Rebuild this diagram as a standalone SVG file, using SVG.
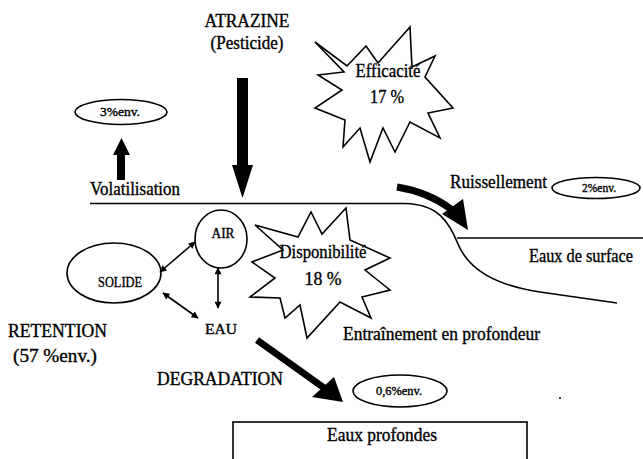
<svg xmlns="http://www.w3.org/2000/svg" width="643" height="459" viewBox="0 0 643 459">
<style>
text{font-family:"Liberation Serif","Times New Roman",serif;fill:#000;stroke:#000;stroke-width:0.35}
.t{font-size:18px}
.m{font-size:14px}
.s{font-size:12px}
.ln{fill:none;stroke:#000;stroke-width:1.6}
.sh{fill:#fff;stroke:#000;stroke-width:1.6}
.fill{fill:#000;stroke:none}
</style>
<defs>
<marker id="ah" viewBox="0 0 10 10" refX="9" refY="5" markerWidth="8" markerHeight="7" orient="auto-start-reverse" markerUnits="userSpaceOnUse">
<path d="M0,0 L10,5 L0,10 z" fill="#000"/>
</marker>
</defs>
<rect width="643" height="459" fill="#fff"/>

<g id="ground">
<path class="ln" d="M90,203.5 L405,203.5 C438,204 449,222 458,244 C469,270 495,285 540,292 L617,303"/>
<line class="ln" x1="457" y1="238" x2="643" y2="238"/>
</g>

<g id="atrazine">
<text class="t" x="247" y="27" text-anchor="middle" textLength="85" lengthAdjust="spacingAndGlyphs">ATRAZINE</text>
<text class="t" x="247" y="49" text-anchor="middle" textLength="73" lengthAdjust="spacingAndGlyphs">(Pesticide)</text>
</g>

<g id="efficacite">
<polygon class="sh" points="315,42 347,66 366,46 378,63 410,27 412,67 435,56 425,77 453,108 428,113 440,138 410,122 395,152 383,128 370,162 360,128 343,147 345,120 315,108 342,90 318,75 344,72"/>
<text class="t" x="388" y="77" text-anchor="middle" textLength="65" lengthAdjust="spacingAndGlyphs">Efficacité</text>
<text class="t" x="387" y="103" text-anchor="middle" textLength="34" lengthAdjust="spacingAndGlyphs">17 %</text>
</g>

<g id="disponibilite">
<polygon class="sh" points="255,225 298,237 311,212 322,234 346,208 350,240 390,258 365,270 390,290 362,297 371,318 340,302 307,338 300,305 285,318 280,298 250,297 275,278 252,262 283,250"/>
<text class="t" x="323" y="258" text-anchor="middle" textLength="87" lengthAdjust="spacingAndGlyphs">Disponibilité</text>
<text class="t" x="323" y="285" text-anchor="middle" textLength="37" lengthAdjust="spacingAndGlyphs">18 %</text>
</g>

<g id="volatilisation">
<ellipse class="sh" cx="121" cy="112" rx="46" ry="12.5"/>
<text class="s" x="120" y="116" text-anchor="middle" textLength="40" lengthAdjust="spacingAndGlyphs">3%env.</text>
<text class="t" x="90" y="195" textLength="90" lengthAdjust="spacingAndGlyphs">Volatilisation</text>
</g>

<g id="ruissellement">
<text class="t" x="450" y="188" textLength="97" lengthAdjust="spacingAndGlyphs">Ruissellement</text>
<ellipse class="sh" cx="596" cy="188" rx="44" ry="10.5"/>
<text class="s" x="599" y="192" text-anchor="middle" textLength="34" lengthAdjust="spacingAndGlyphs">2%env.</text>
</g>

<g id="surface">
<text class="t" x="529" y="262" textLength="104" lengthAdjust="spacingAndGlyphs">Eaux de surface</text>
</g>

<g id="air">
<ellipse class="sh" cx="221" cy="239" rx="26" ry="29"/>
<text class="m" x="223" y="238" text-anchor="middle" textLength="23" lengthAdjust="spacingAndGlyphs">AIR</text>
</g>

<g id="solide">
<ellipse class="sh" cx="114" cy="273" rx="47" ry="30"/>
<text class="m" x="120" y="287" text-anchor="middle" textLength="44" lengthAdjust="spacingAndGlyphs">SOLIDE</text>
</g>

<g id="eau">
<text class="m" x="221" y="334" text-anchor="middle" textLength="32" lengthAdjust="spacingAndGlyphs">EAU</text>
</g>

<g id="retention">
<text class="t" x="8" y="337" textLength="99" lengthAdjust="spacingAndGlyphs">RETENTION</text>
<text class="t" x="13" y="362" textLength="84" lengthAdjust="spacingAndGlyphs">(57 %env.)</text>
</g>

<g id="degradation">
<text class="t" x="157" y="385" textLength="126" lengthAdjust="spacingAndGlyphs">DEGRADATION</text>
</g>

<g id="entrainement">
<text class="t" x="343" y="340" textLength="197" lengthAdjust="spacingAndGlyphs">Entraînement en profondeur</text>
</g>

<g id="profond">
<ellipse class="sh" cx="400" cy="391" rx="47" ry="16"/>
<text class="s" x="399" y="395" text-anchor="middle" textLength="46" lengthAdjust="spacingAndGlyphs">0,6%env.</text>
</g>

<g id="eaux-profondes">
<rect class="ln" x="233" y="422" width="294" height="50"/>
<text class="t" x="382" y="441" text-anchor="middle" textLength="110" lengthAdjust="spacingAndGlyphs">Eaux profondes</text>
</g>

<g id="connectors">
<path class="fill" d="M237,78 L248,78 L248,165 L253,165 L242.5,198 L232,165 L237,165 z"/>
<path class="fill" d="M117,180 L125,180 L125,155 L130,155 L121.5,138 L113,155 L117,155 z"/>
<path d="M397,187 Q428,192 451,209" fill="none" stroke="#000" stroke-width="7"/>
<path class="fill" d="M442,214 L463,199 L468,230 z"/>
<path d="M257,340 L327,390" fill="none" stroke="#000" stroke-width="7"/>
<path class="fill" d="M312,397 L334,377 L343,402 z"/>
<line class="ln" x1="195" y1="242" x2="160" y2="272" marker-start="url(#ah)" marker-end="url(#ah)"/>
<line class="ln" x1="163" y1="293" x2="198" y2="318" marker-start="url(#ah)" marker-end="url(#ah)"/>
<line class="ln" x1="218" y1="268" x2="218" y2="308" marker-start="url(#ah)" marker-end="url(#ah)"/>
</g>
<circle cx="560" cy="398" r="1" fill="#000"/>
</svg>
